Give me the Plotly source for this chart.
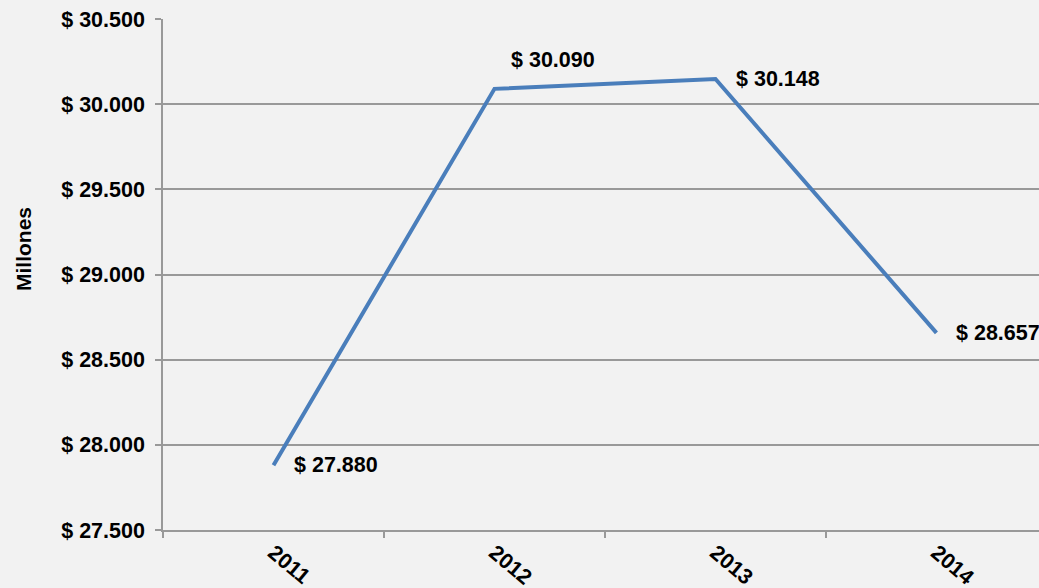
import plotly.graph_objects as go

years = ["2011", "2012", "2013", "2014"]
values = [27880, 30090, 30148, 28657]
y_ticks = [27500, 28000, 28500, 29000, 29500, 30000, 30500]

# label offsets (pixels) per point: (xshift, yshift)
label_shift = [(19, 0), (15, 29), (19, 0), (18, 0)]

DOLLAR = "&#36; "
FONT = "Arial, Liberation Sans, sans-serif"

def fmt(v):
    return DOLLAR + f"{v:,}".replace(",", ".")

fig = go.Figure()
fig.add_trace(go.Scatter(
    x=years, y=values, mode="lines",
    line=dict(color="#4a7ebb", width=4),
    hoverinfo="skip", showlegend=False,
))

for i, (v, (dx, dy)) in enumerate(zip(values, label_shift)):
    fig.add_annotation(
        x=i, y=v, xref="x", yref="y", text=fmt(v), showarrow=False,
        xanchor="left", yanchor="middle", xshift=dx, yshift=dy,
        font=dict(family=FONT, size=21.5, color="#000000", weight="bold"),
    )

W, H = 1039, 588
L, T, B = 163, 19, 58
PW = W - L
PH = H - T - B

fig.add_annotation(
    x=(23 - L) / PW, y=(H - B - 249) / PH, xref="paper", yref="paper",
    text="Millones", showarrow=False,
    textangle=-90, xanchor="center", yanchor="middle",
    font=dict(family=FONT, size=21, color="#000000", weight="bold"),
)

fig.update_layout(
    width=W, height=H,
    margin=dict(l=L, r=0, t=T, b=B, autoexpand=False),
    paper_bgcolor="#f2f2f2", plot_bgcolor="#f2f2f2",
    font=dict(family=FONT, color="#000000"),
)
fig.update_xaxes(
    type="category", range=[-0.5, 3.464], tickson="boundaries",
    ticks="outside", ticklen=6, tickcolor="#999999", tickwidth=1.5,
    showline=True, linecolor="#999999", linewidth=1.5, showgrid=False,
    tickangle=40, tickfont=dict(size=21.5, weight="bold", family=FONT),
)
fig.update_yaxes(
    range=[27500, 30500], tickmode="array", tickvals=y_ticks,
    ticktext=[fmt(v) for v in y_ticks],
    ticks="outside", ticklen=6, tickcolor="#999999", tickwidth=1.5,
    showline=True, linecolor="#999999", linewidth=1.5,
    showgrid=True, gridcolor="#999999", gridwidth=1.5, zeroline=False,
    tickfont=dict(size=21.5, weight="bold", family=FONT),
    ticklabelstandoff=6,
)

fig.write_html(
    "out.html",
    config={"displayModeBar": False},
    post_script="document.body.style.margin='0';document.body.style.overflow='hidden';",
)
